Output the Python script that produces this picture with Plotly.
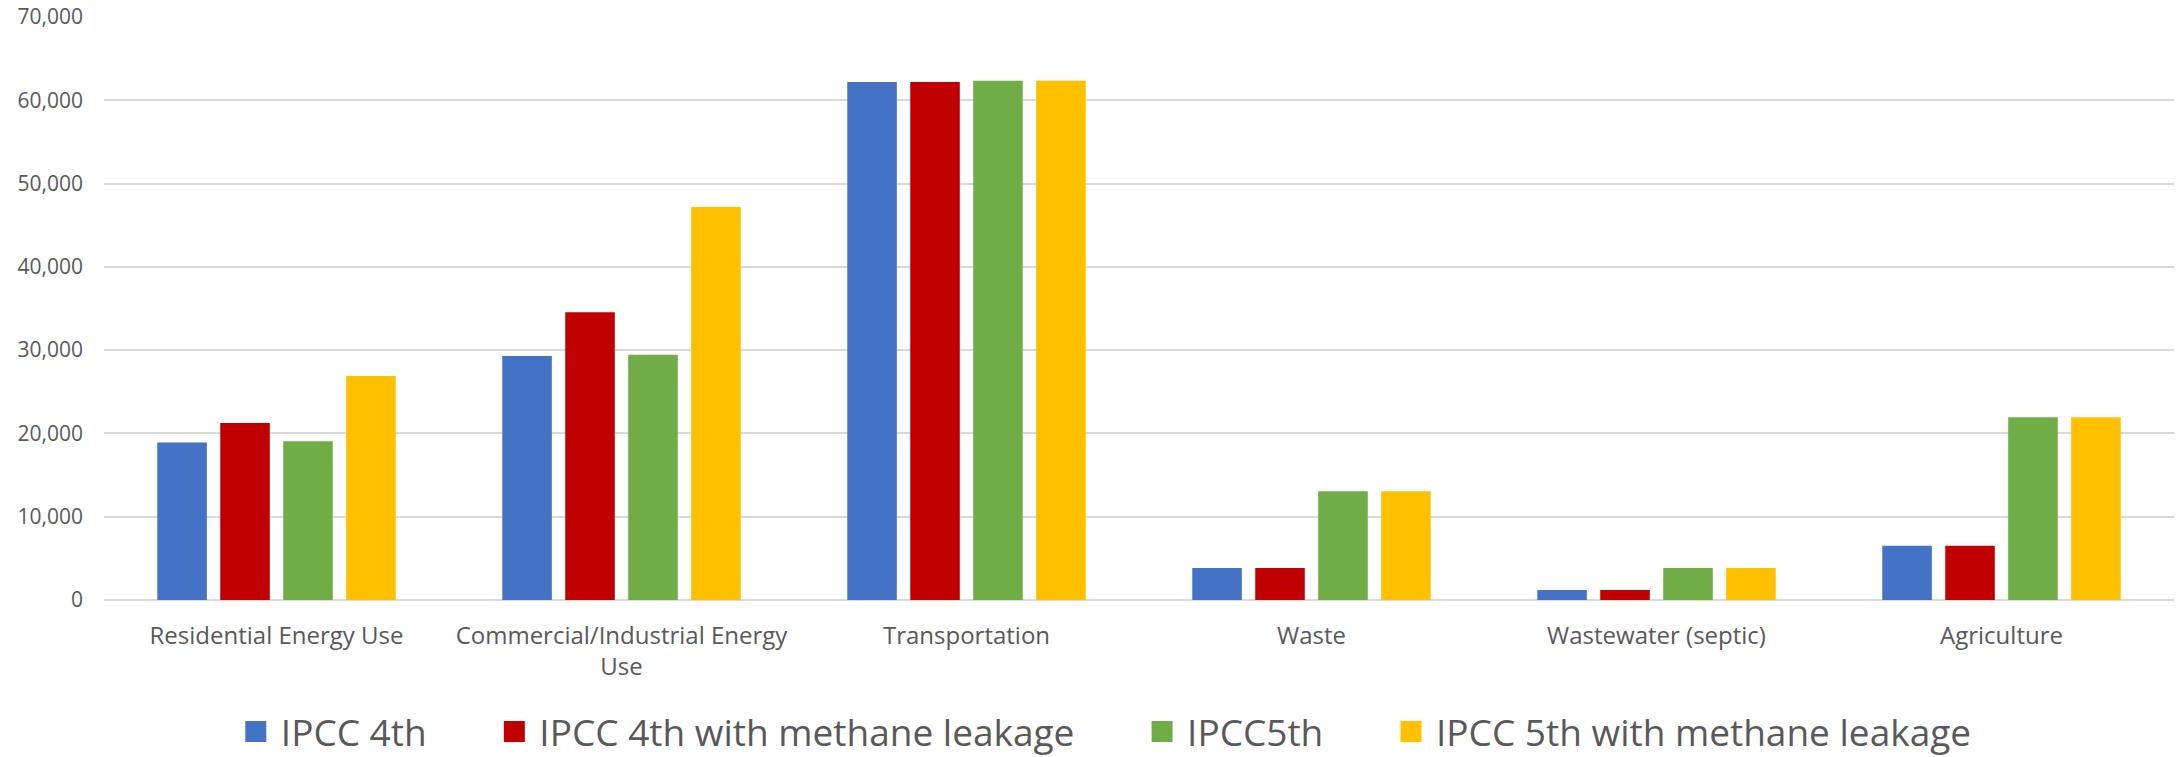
import plotly.graph_objects as go

categories = ["Residential Energy Use", "Commercial/Industrial Energy<br>Use", "Transportation",
              "Waste", "Wastewater (septic)", "Agriculture"]
series_names = ["IPCC 4th", "IPCC 4th with methane leakage", "IPCC5th", "IPCC 5th with methane leakage"]
ipcc4 = [18900, 29300, 62200, 3850, 1200, 6500]
ipcc4_leak = [21250, 34550, 62200, 3850, 1200, 6500]
ipcc5 = [19050, 29450, 62350, 13050, 3850, 21950]
ipcc5_leak = [26900, 47200, 62350, 13050, 3850, 21950]
colors = ["#4472C4", "#C00000", "#70AD47", "#FFC000"]
y_ticks = [0, 10000, 20000, 30000, 40000, 50000, 60000, 70000]

NB = "\u00a0"
fig = go.Figure()
for name, vals, col in zip(series_names, [ipcc4, ipcc4_leak, ipcc5, ipcc5_leak], colors):
    fig.add_trace(go.Bar(name=name, x=categories, y=vals, showlegend=False,
                         marker=dict(color=col, line=dict(width=0))))
# legend entries with larger square swatches
for i, (name, col) in enumerate(zip(series_names, colors)):
    label = name + (NB * 6 if i < len(series_names) - 1 else "")
    fig.add_trace(go.Scatter(name=label, x=[None], y=[None], mode="markers",
                             marker=dict(symbol="square", size=24, color=col,
                                         line=dict(color=col, width=5)),
                             showlegend=True))

FONT = "Open Sans, Noto Sans, sans-serif"
fig.update_layout(
    width=2178, height=757,
    margin=dict(l=104, r=4, t=17, b=157, autoexpand=False),
    paper_bgcolor="white", plot_bgcolor="white",
    barmode="group", bargap=0.27, bargroupgap=0.213,
    font=dict(family=FONT, color="#595959"),
    showlegend=True,
    legend=dict(orientation="h", x=0.483, xanchor="center", y=-0.2264, yanchor="middle",
                font=dict(size=37, color="#595959"), itemsizing="trace",
                traceorder="normal", itemwidth=40),
)
fig.update_yaxes(range=[0, 70000], tickvals=y_ticks, tickformat=",", showgrid=True,
                 gridcolor="#D9D9D9", gridwidth=1.5, zeroline=True, zerolinecolor="#D9D9D9",
                 zerolinewidth=1.5, showline=False, ticks="", tickfont=dict(size=21, color="#595959"),
                 ticklabelstandoff=20, automargin=False, ticklabeloverflow="allow")
fig.update_xaxes(showgrid=False, showline=False, ticks="", tickfont=dict(size=24, color="#595959"),
                 ticklabelstandoff=19, automargin=False)

fig.write_html("out.html", config={"displayModeBar": False},
               post_script="document.body.style.margin='0';document.body.style.overflow='hidden';")
